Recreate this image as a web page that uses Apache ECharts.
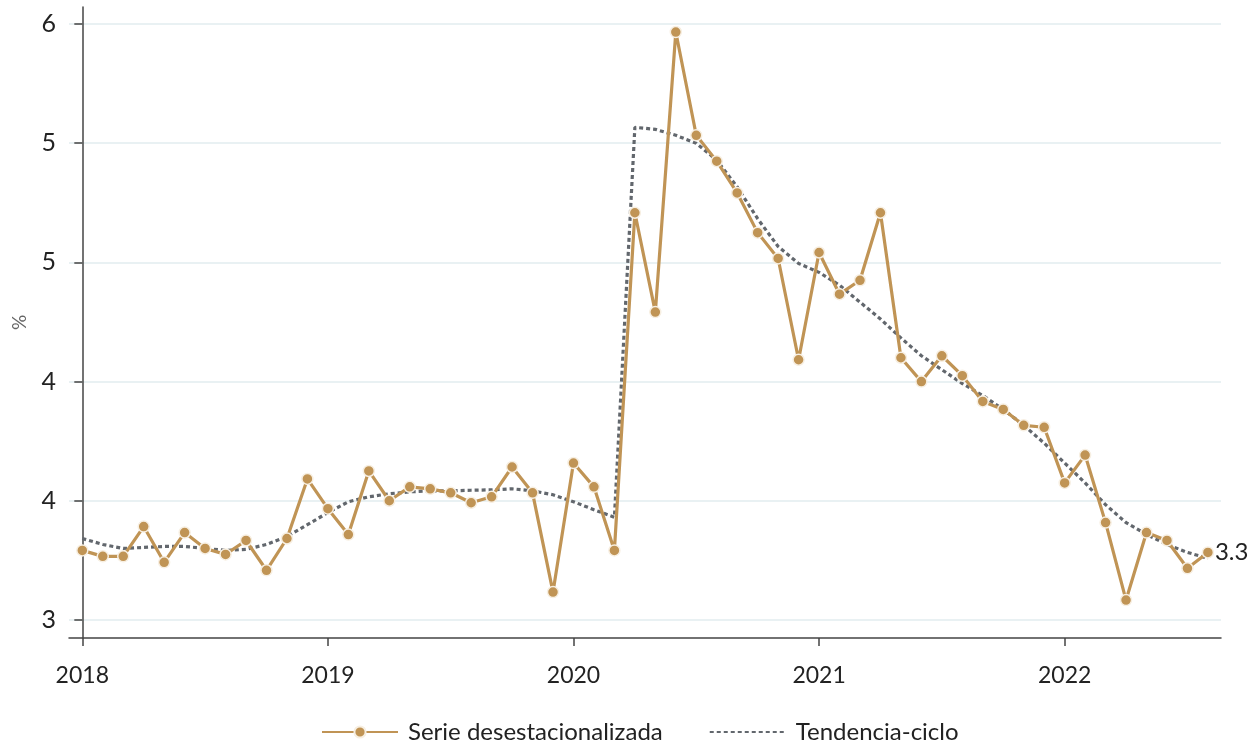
<!DOCTYPE html>
<html>
<head>
<meta charset="utf-8">
<script src="https://cdn.jsdelivr.net/npm/echarts@6/dist/echarts.min.js"></script>
<style>
html,body{margin:0;padding:0;background:#fff;}
#chart{width:1250px;height:745px;}
</style>
</head>
<body>
<div id="chart"></div>
<script>
// Monthly data, Jan 2018 (index 0) .. Aug 2022 (index 55)
const startYear = 2018;
const yearTicks = [0, 12, 24, 36, 48];
const valueTicks = [3, 3.6, 4.2, 4.8, 5.4, 6.0];
const serieDesest = [
  3.35, 3.32, 3.32, 3.47, 3.29, 3.44, 3.36, 3.33, 3.40, 3.25, 3.41, 3.71,
  3.56, 3.43, 3.75, 3.60, 3.67, 3.66, 3.64, 3.59, 3.62, 3.77, 3.64, 3.14,
  3.79, 3.67, 3.35, 5.05, 4.55, 5.96, 5.44, 5.31, 5.15, 4.95, 4.82, 4.31,
  4.85, 4.64, 4.71, 5.05, 4.32, 4.20, 4.33, 4.23, 4.10, 4.06, 3.98, 3.97,
  3.69, 3.83, 3.49, 3.10, 3.44, 3.40, 3.26, 3.34
];
const tendencia = [
  3.41, 3.38, 3.36, 3.365, 3.37, 3.37, 3.36, 3.35, 3.355, 3.38, 3.42, 3.48,
  3.54, 3.595, 3.62, 3.635, 3.645, 3.65, 3.65, 3.653, 3.655, 3.66, 3.65, 3.63,
  3.595, 3.555, 3.517, 5.48, 5.47, 5.44, 5.40, 5.315, 5.18, 5.02, 4.88, 4.795,
  4.75, 4.685, 4.60, 4.515, 4.42, 4.33, 4.26, 4.19, 4.13, 4.06, 3.98, 3.89,
  3.79, 3.69, 3.58, 3.49, 3.43, 3.38, 3.34, 3.31
];
const seriesNames = ['Serie desestacionalizada', 'Tendencia-ciclo'];

const toPairs = arr => arr.map((v, i) => [i, v]);
const FONT = 'Lato';

const chart = echarts.init(document.getElementById('chart'));
chart.setOption({
  animation: false,
  backgroundColor: '#ffffff',
  grid: { left: 69, right: 29, top: 7, bottom: 107, containLabel: false, outerBoundsMode: 'none' },
  xAxis: {
    type: 'value',
    min: -0.65,
    max: 55.64,
    axisLine: { show: true, lineStyle: { color: '#444', width: 1.5 } },
    axisTick: { show: true, length: 8, customValues: yearTicks, lineStyle: { color: '#444', width: 1.5 } },
    axisLabel: {
      customValues: yearTicks,
      formatter: v => String(startYear + Math.round(v / 12)),
      color: '#222', fontFamily: FONT, fontSize: 23, margin: 26
    },
    splitLine: { show: false }
  },
  yAxis: {
    type: 'value',
    min: 2.909,
    max: 6.086,
    name: '%',
    nameLocation: 'middle',
    nameRotate: 90,
    nameGap: 40,
    nameTextStyle: { color: '#666', fontFamily: FONT, fontSize: 19 },
    axisLine: { show: true, lineStyle: { color: '#444', width: 1.5 } },
    axisTick: { show: true, length: 8, customValues: valueTicks, lineStyle: { color: '#444', width: 1.5 } },
    axisLabel: {
      customValues: valueTicks,
      formatter: v => String(Math.round(v)),
      color: '#222', fontFamily: FONT, fontSize: 25, margin: 13
    },
    splitLine: { show: true, lineStyle: { color: '#e9f1f3', width: 2 } }
  },
  legend: {
    left: 316,
    top: 715,
    itemWidth: 76,
    itemHeight: 14,
    itemGap: 46,
    textStyle: { color: '#222', fontFamily: FONT, fontSize: 24, padding: [0, 0, 0, 5] },
    data: [
      { name: seriesNames[0] },
      { name: seriesNames[1], itemStyle: { color: 'rgba(0,0,0,0)', borderWidth: 0 } }
    ]
  },
  series: [
    {
      name: seriesNames[1],
      type: 'line',
      data: toPairs(tendencia),
      showSymbol: false,
      symbol: 'none',
      lineStyle: { color: '#62676d', width: 3.2, type: [4, 3] },
      itemStyle: { color: '#62676d' },
      z: 3
    },
    {
      name: seriesNames[0],
      type: 'line',
      data: toPairs(serieDesest),
      symbol: 'circle',
      symbolSize: 11,
      lineStyle: { color: '#c09455', width: 3.2 },
      itemStyle: { color: '#c09455', borderColor: '#f7efe2', borderWidth: 1.5 },
      endLabel: {
        show: true,
        formatter: p => p.value[1].toFixed(1),
        color: '#222', fontFamily: FONT, fontSize: 24, distance: 7
      },
      z: 4
    }
  ]
});
</script>
</body>
</html>
